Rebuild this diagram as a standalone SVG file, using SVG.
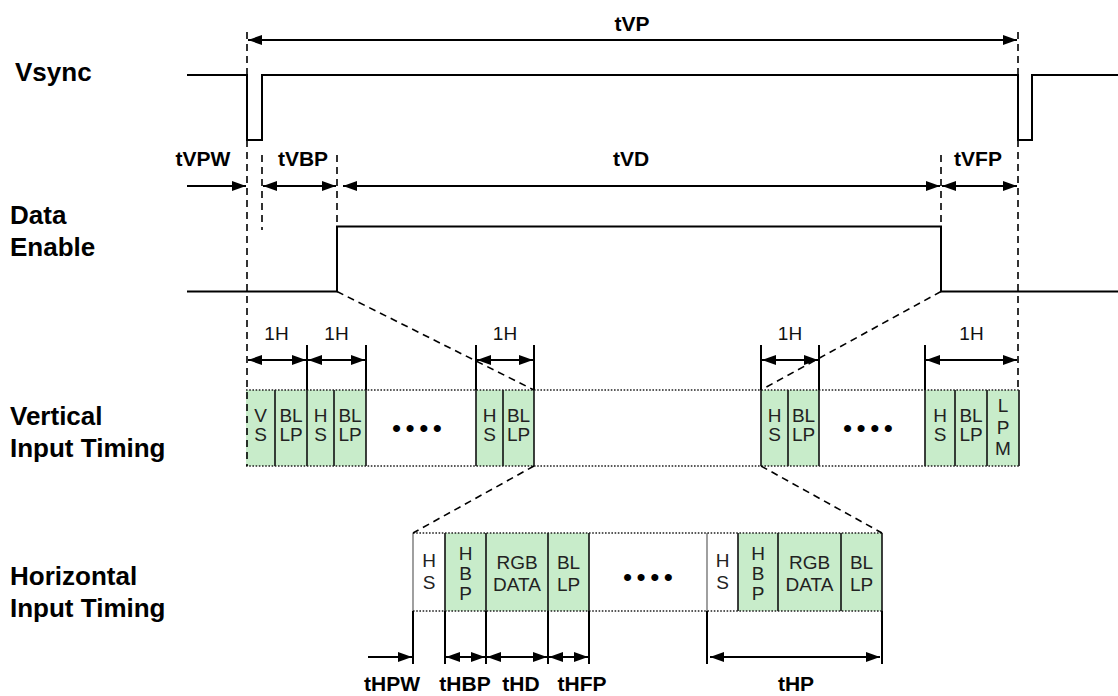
<svg xmlns="http://www.w3.org/2000/svg" width="1118" height="696" viewBox="0 0 1118 696">
<style>
.lbl{font-family:"Liberation Sans",Arial,sans-serif;font-weight:bold;font-size:26px;fill:#000}
.tl{font-family:"Liberation Sans",Arial,sans-serif;font-weight:bold;font-size:21px;fill:#000;text-anchor:middle}
.bx{font-family:"Liberation Sans",Arial,sans-serif;font-size:19px;fill:#222;text-anchor:middle}
.h1{font-family:"Liberation Sans",Arial,sans-serif;font-size:19px;fill:#111;text-anchor:middle}
.dots{font-family:"Liberation Sans",Arial,sans-serif;font-size:26px;fill:#000;letter-spacing:4.5px}
.wave{fill:none;stroke:#000;stroke-width:2}
.dash{fill:none;stroke:#000;stroke-width:1.6;stroke-dasharray:7 5}
.dot{fill:none;stroke:#222;stroke-width:1.6;stroke-dasharray:1.6 1.6}
.arr{fill:none;stroke:#000;stroke-width:2}
.tick{fill:none;stroke:#000;stroke-width:2}
.edge{fill:none;stroke:#111;stroke-width:1.6}
.g{fill:#c8ecca}
</style>
<defs>
<marker id="ah" viewBox="0 0 14 10" refX="14" refY="5" markerWidth="14" markerHeight="10" markerUnits="userSpaceOnUse" orient="auto-start-reverse"><path d="M0,0 L14,5 L0,10 z" fill="#000"/></marker>
</defs>

<g id="labels">
<text class="lbl" x="15" y="81">Vsync</text>
<text class="lbl" x="10" y="224">Data<tspan x="10" dy="32">Enable</tspan></text>
<text class="lbl" x="10" y="425">Vertical<tspan x="10" dy="32">Input Timing</tspan></text>
<text class="lbl" x="10" y="585">Horizontal<tspan x="10" dy="32">Input Timing</tspan></text>
</g>

<g id="vsync">
<path class="wave" d="M187,75 H247 V140 H262 V75 H1018 V140 H1032 V75 H1118"/>
</g>

<g id="data-enable">
<path class="wave" d="M187,291.5 H337 V226.5 H941 V291.5 H1118"/>
</g>

<g id="timing-labels">
<text class="tl" x="632" y="31">tVP</text>
<text class="tl" x="203" y="166">tVPW</text>
<text class="tl" x="303" y="166">tVBP</text>
<text class="tl" x="631" y="166">tVD</text>
<text class="tl" x="978" y="166">tVFP</text>
<text class="tl" x="392" y="691">tHPW</text>
<text class="tl" x="465" y="691">tHBP</text>
<text class="tl" x="521" y="691">tHD</text>
<text class="tl" x="582" y="691">tHFP</text>
<text class="tl" x="796" y="691">tHP</text>
</g>

<g id="vertical-timing">
<g id="vt-1">
<rect class="g" x="246" y="390" width="120" height="76"/>
<path class="edge" d="M275,390 V466 M307,390 V466 M334,390 V466 M366,390 V466"/>
<text class="bx" x="260.5" y="422">V<tspan x="260.5" dy="19">S</tspan></text>
<text class="bx" x="291" y="422">BL<tspan x="291" dy="19">LP</tspan></text>
<text class="bx" x="320.5" y="422">H<tspan x="320.5" dy="19">S</tspan></text>
<text class="bx" x="350" y="422">BL<tspan x="350" dy="19">LP</tspan></text>
</g>
<text class="dots" x="392" y="437">••••</text>
<g id="vt-2">
<rect class="g" x="476" y="390" width="58" height="76"/>
<path class="edge" d="M476,390 V466 M503,390 V466 M534,390 V466"/>
<text class="bx" x="489.5" y="422">H<tspan x="489.5" dy="19">S</tspan></text>
<text class="bx" x="518.5" y="422">BL<tspan x="518.5" dy="19">LP</tspan></text>
</g>
<g id="vt-3">
<rect class="g" x="761" y="390" width="58" height="76"/>
<path class="edge" d="M761,390 V466 M788,390 V466 M819,390 V466"/>
<text class="bx" x="774.5" y="422">H<tspan x="774.5" dy="19">S</tspan></text>
<text class="bx" x="803.5" y="422">BL<tspan x="803.5" dy="19">LP</tspan></text>
</g>
<text class="dots" x="843" y="437">••••</text>
<g id="vt-4">
<rect class="g" x="925" y="390" width="94" height="76"/>
<path class="edge" d="M925,390 V466 M955,390 V466 M987,390 V466 M1019,390 V466"/>
<text class="bx" x="940" y="422">H<tspan x="940" dy="19">S</tspan></text>
<text class="bx" x="971" y="422">BL<tspan x="971" dy="19">LP</tspan></text>
<text class="bx" x="1003" y="412">L<tspan x="1003" dy="21.5">P</tspan><tspan x="1003" dy="21.5">M</tspan></text>
</g>
<path class="dot" d="M246,390 H1019 M246,466 H1019"/>
</g>

<g id="horizontal-timing">
<g id="ht-1">
<rect x="413" y="533" width="32" height="78" fill="#fff"/>
<rect class="g" x="445" y="533" width="144" height="78"/>
<path d="M413,533 V611" stroke="#888" stroke-width="1.6"/>
<path class="edge" d="M445,533 V611 M486,533 V611 M548,533 V611 M589,533 V611"/>
<text class="bx" x="429" y="567">H<tspan x="429" dy="22">S</tspan></text>
<text class="bx" x="465.5" y="560">H<tspan x="465.5" dy="20">B</tspan><tspan x="465.5" dy="20">P</tspan></text>
<text class="bx" x="517" y="569">RGB<tspan x="517" dy="22">DATA</tspan></text>
<text class="bx" x="568.5" y="569">BL<tspan x="568.5" dy="22">LP</tspan></text>
</g>
<text class="dots" x="623" y="586">••••</text>
<g id="ht-2">
<rect x="707" y="533" width="31" height="78" fill="#fff"/>
<rect class="g" x="738" y="533" width="144" height="78"/>
<path d="M707,533 V611" stroke="#888" stroke-width="1.6"/>
<path class="edge" d="M738,533 V611 M778,533 V611 M841,533 V611 M882,533 V611"/>
<text class="bx" x="722.5" y="567">H<tspan x="722.5" dy="22">S</tspan></text>
<text class="bx" x="758" y="560">H<tspan x="758" dy="20">B</tspan><tspan x="758" dy="20">P</tspan></text>
<text class="bx" x="809.5" y="569">RGB<tspan x="809.5" dy="22">DATA</tspan></text>
<text class="bx" x="861.5" y="569">BL<tspan x="861.5" dy="22">LP</tspan></text>
</g>
<path class="dot" d="M413,533 H882 M413,611 H882"/>
</g>

<g id="h1-labels">
<text class="h1" x="276.5" y="340">1H</text>
<text class="h1" x="336.5" y="340">1H</text>
<text class="h1" x="505" y="340">1H</text>
<text class="h1" x="790" y="340">1H</text>
<text class="h1" x="971.5" y="340">1H</text>
</g>

<g id="connectors">
<path class="dash" d="M247,32 V466"/>
<path class="dash" d="M1018,32 V390"/>
<path class="dash" d="M262,155 V230"/>
<path class="dash" d="M337,155 V226"/>
<path class="dash" d="M941,155 V226"/>
<path class="dash" d="M337,291.5 L534,390"/>
<path class="dash" d="M941,291.5 L761,390"/>
<path class="dash" d="M534,466 L413,533"/>
<path class="dash" d="M761,466 L882,533"/>

<line class="arr" x1="248" y1="40" x2="1017" y2="40" marker-start="url(#ah)" marker-end="url(#ah)"/>
<line class="arr" x1="187" y1="186" x2="246" y2="186" marker-end="url(#ah)"/>
<line class="arr" x1="263" y1="186" x2="336" y2="186" marker-start="url(#ah)" marker-end="url(#ah)"/>
<line class="arr" x1="343" y1="186" x2="940" y2="186" marker-start="url(#ah)" marker-end="url(#ah)"/>
<line class="arr" x1="942" y1="186" x2="1017" y2="186" marker-start="url(#ah)" marker-end="url(#ah)"/>

<path class="tick" d="M307,345 V390 M366,345 V390 M476,345 V390 M534,345 V390 M761,345 V390 M819,345 V390 M925,345 V390"/>
<line class="arr" x1="248" y1="360" x2="306" y2="360" marker-start="url(#ah)" marker-end="url(#ah)"/>
<line class="arr" x1="308" y1="360" x2="365" y2="360" marker-start="url(#ah)" marker-end="url(#ah)"/>
<line class="arr" x1="477" y1="360" x2="533" y2="360" marker-start="url(#ah)" marker-end="url(#ah)"/>
<line class="arr" x1="762" y1="360" x2="818" y2="360" marker-start="url(#ah)" marker-end="url(#ah)"/>
<line class="arr" x1="926" y1="360" x2="1017" y2="360" marker-start="url(#ah)" marker-end="url(#ah)"/>

<path class="tick" d="M413,611 V664 M445,611 V664 M486,611 V664 M548,611 V664 M589,611 V664 M707,611 V664 M882,611 V664"/>
<line class="arr" x1="368" y1="657" x2="412" y2="657" marker-end="url(#ah)"/>
<line class="arr" x1="446" y1="657" x2="485" y2="657" marker-start="url(#ah)" marker-end="url(#ah)"/>
<line class="arr" x1="487" y1="657" x2="547" y2="657" marker-start="url(#ah)" marker-end="url(#ah)"/>
<line class="arr" x1="549" y1="657" x2="588" y2="657" marker-start="url(#ah)" marker-end="url(#ah)"/>
<line class="arr" x1="710" y1="657" x2="880" y2="657" marker-start="url(#ah)" marker-end="url(#ah)"/>
</g>
</svg>
